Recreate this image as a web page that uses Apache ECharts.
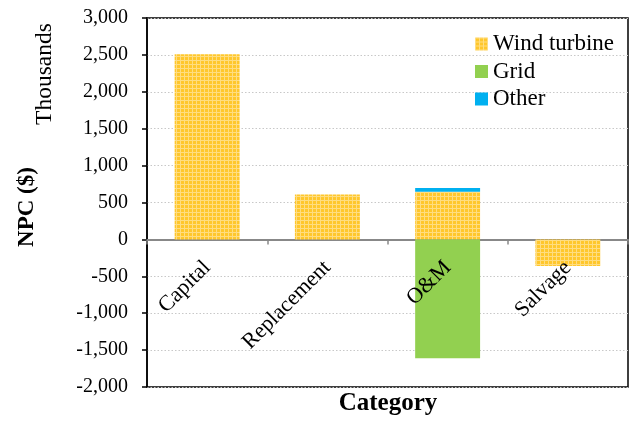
<!DOCTYPE html>
<html>
<head>
<meta charset="utf-8">
<script src="https://cdn.jsdelivr.net/npm/echarts@6/dist/echarts.min.js"></script>
<style>
  html, body { margin: 0; padding: 0; background: #fff; }
  #chart { width: 633px; height: 425px; }
</style>
</head>
<body>
<div id="chart"></div>
<script>
// NPC breakdown by cost category (thousands of $)
const categories = ['Capital', 'Replacement', 'O&M', 'Salvage'];
const windTurbine = [2510, 610, 645, -360];
const gridPower = [0, 0, -1610, 0];
const other = [0, 0, 50, 0];
const yTicks = { min: -2000, max: 3000, step: 500 };

const SERIF = '"Liberation Serif", "Times New Roman", serif';

// Small checkered tile for the wind turbine fill
function makeTile() {
  const c = document.createElement('canvas');
  c.width = 4; c.height = 4;
  const g = c.getContext('2d');
  g.fillStyle = '#FFC72C';
  g.fillRect(0, 0, 4, 4);
  g.fillStyle = '#FFDD80';
  g.fillRect(0, 0, 4, 1);
  g.fillRect(0, 0, 1, 4);
  return c;
}
const windFill = { image: makeTile(), repeat: 'repeat' };

// Category names sit just under the zero line, so they ride on an
// invisible point series anchored at y = 0 for each category.
const categoryAnchors = categories.map(c => ({ name: c, value: [c, 0] }));

const chart = echarts.init(document.getElementById('chart'), null, { renderer: 'canvas' });

chart.setOption({
  animation: false,
  backgroundColor: '#fff',
  grid: {
    left: 147, right: 5, top: 18, bottom: 38,
    containLabel: false, outerBoundsMode: 'none',
    show: true, borderColor: '#000', borderWidth: 1.5, backgroundColor: 'transparent'
  },
  legend: {
    orient: 'vertical',
    left: 470, top: 27,
    itemWidth: 13, itemHeight: 13, itemGap: 3.5,
    icon: 'rect',
    textStyle: { fontFamily: SERIF, fontSize: 23, color: '#000', lineHeight: 24 },
    data: ['Wind turbine', 'Grid', 'Other']
  },
  xAxis: {
    type: 'category',
    data: categories,
    axisLine: { onZero: true, lineStyle: { color: '#888', width: 2 } },
    axisTick: { show: true, length: 5, lineStyle: { color: '#888', width: 1.5 } },
    axisLabel: { show: false },
    splitLine: { show: false }
  },
  yAxis: {
    type: 'value',
    min: yTicks.min, max: yTicks.max, interval: yTicks.step,
    axisLine: { show: true, onZero: false, lineStyle: { color: '#000', width: 1.5 } },
    axisTick: { show: true, length: 5, lineStyle: { color: '#000', width: 1.5 } },
    axisLabel: {
      fontFamily: SERIF, fontSize: 20, color: '#000', margin: 19,
      formatter: v => v.toLocaleString('en-US')
    },
    splitLine: { show: true, lineStyle: { color: '#c8c8c8', type: [1.5, 2], width: 1 } }
  },
  graphic: [
    {
      type: 'text', x: 45, y: 74, rotation: Math.PI / 2,
      style: { text: 'Thousands', font: '23.5px ' + SERIF, fill: '#000', align: 'center', verticalAlign: 'middle' }
    },
    {
      type: 'text', x: 27, y: 207, rotation: Math.PI / 2,
      style: { text: 'NPC ($)', font: 'bold 23px ' + SERIF, fill: '#000', align: 'center', verticalAlign: 'middle' }
    },
    {
      type: 'text', x: 388, y: 404,
      style: { text: 'Category', font: 'bold 25px ' + SERIF, fill: '#000', align: 'center', verticalAlign: 'middle' }
    }
  ],
  series: [
    {
      name: 'Wind turbine', type: 'bar', stack: 'npc', barWidth: '54%',
      itemStyle: { color: windFill }, data: windTurbine
    },
    {
      name: 'Grid', type: 'bar', stack: 'npc',
      itemStyle: { color: '#92D050' }, data: gridPower
    },
    {
      name: 'Other', type: 'bar', stack: 'npc',
      itemStyle: { color: '#00B0F0' }, data: other
    },
    {
      name: 'categoryLabels', type: 'scatter', symbolSize: 0, silent: true, z: 5,
      itemStyle: { opacity: 1 },
      data: categoryAnchors,
      label: {
        show: true, position: [0, 25], rotate: 45,
        align: 'right', verticalAlign: 'middle', opacity: 1,
        textBorderWidth: 0,
        formatter: p => p.name,
        fontFamily: SERIF, fontSize: 22, color: '#000'
      }
    }
  ]
});
</script>
</body>
</html>
